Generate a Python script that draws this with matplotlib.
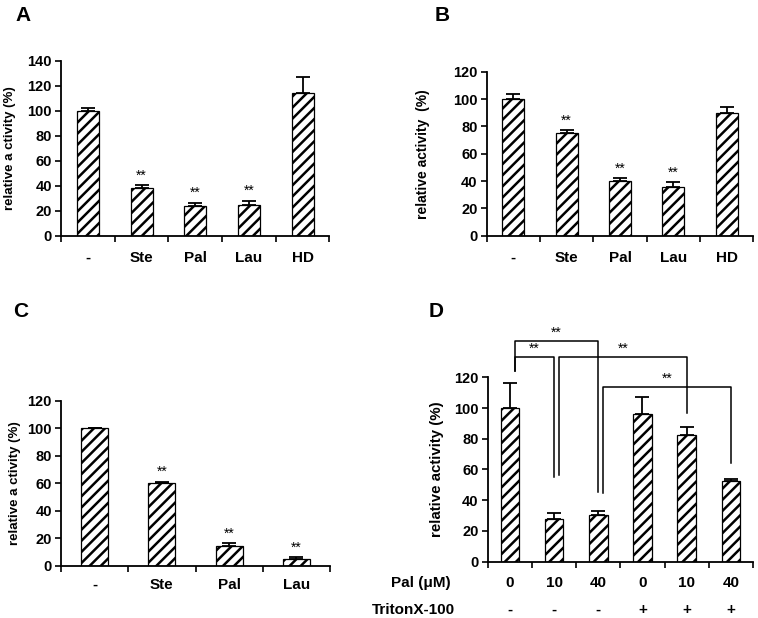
import matplotlib
matplotlib.use("Agg")
import matplotlib.pyplot as plt
import numpy as np

plt.rcParams["font.family"] = ["Liberation Sans", "DejaVu Sans"]
plt.rcParams["hatch.linewidth"] = 1.8

# panel A
a_labels = ["-", "Ste", "Pal", "Lau", "HD"]
a_vals = [100, 38, 24, 25, 114]
a_err = [2, 2.5, 2.5, 3, 13]
a_sig = [False, True, True, True, False]

# panel B
b_labels = ["-", "Ste", "Pal", "Lau", "HD"]
b_vals = [100, 75.5, 40, 35.5, 89.5]
b_err = [4, 1.5, 2, 3.5, 5]
b_sig = [False, True, True, True, False]

# panel C
c_labels = ["-", "Ste", "Pal", "Lau"]
c_vals = [100, 60, 14.5, 5]
c_err = [0.5, 1.2, 2, 1.2]
c_sig = [False, True, True, True]

# panel D
d_pal = ["0", "10", "40", "0", "10", "40"]
d_triton = ["-", "-", "-", "+", "+", "+"]
d_vals = [100, 28, 30.5, 96, 82.5, 52.5]
d_err = [16.5, 3.5, 2.8, 11, 5, 1]
d_pairs = [(0, 2), (0, 1), (1, 4), (2, 5)]

fig = plt.figure(figsize=(7.58, 6.18), dpi=100)


def bar_panel(rect, labels, vals, errs, sig, ymax, width, ylabel, lab_x, pad, lab_size):
    ax = fig.add_axes(rect)
    n = len(vals)
    x = np.arange(n) + 0.5
    ax.bar(x, vals, width, color="white", edgecolor="black", hatch="///", linewidth=0.9, zorder=2)
    ax.errorbar(x, vals, yerr=[np.zeros(n), errs], fmt="none", ecolor="black",
                elinewidth=1.3, capsize=5, capthick=1.3, zorder=3)
    if sig is not None:
        for xi, v, e, s in zip(x, vals, errs, sig):
            if s:
                ax.annotate("**", (xi, v + e), xytext=(0, 7), textcoords="offset points",
                            ha="center", va="center", fontsize=10)
    ax.set_xlim(0, n)
    ax.set_ylim(0, ymax)
    ax.set_yticks(np.arange(0, ymax + 1, 20))
    ax.set_xticks(np.arange(n + 1))
    ax.set_xticklabels([])
    ax.set_xticks(x, minor=True)
    ax.set_xticklabels(labels, minor=True, fontsize=11, fontweight="bold")
    ax.tick_params(axis="x", which="major", direction="out", length=4, width=1.2)
    ax.tick_params(axis="x", which="minor", length=0, pad=pad)
    ax.tick_params(axis="y", direction="out", length=4, width=1.2, pad=2.5, labelsize=10.5)
    for t in ax.get_yticklabels():
        t.set_fontweight("bold")
    for s in ["top", "right"]:
        ax.spines[s].set_visible(False)
    for s in ["left", "bottom"]:
        ax.spines[s].set_linewidth(1.3)
    ax.set_ylabel(ylabel, fontsize=lab_size, fontweight="bold")
    ax.yaxis.set_label_coords(lab_x, 0.5)
    return ax


axA = bar_panel([0.0805, 0.6186, 0.3540, 0.2827], a_labels, a_vals, a_err, a_sig, 140, 0.41,
                "relative a ctivity (%)", -0.168, 11, 9.5)
axB = bar_panel([0.6421, 0.6186, 0.3517, 0.2654], b_labels, b_vals, b_err, b_sig, 120, 0.41,
                "relative activity  (%)", -0.214, 11, 10)
axC = bar_panel([0.0805, 0.0846, 0.3549, 0.2670], c_labels, c_vals, c_err, c_sig, 120, 0.40,
                "relative a ctivity (%)", -0.149, 8.5, 9.5)
axD = bar_panel([0.6434, 0.0911, 0.3500, 0.2984], d_pal, d_vals, d_err, None, 120, 0.42,
                "relative activity (%)", -0.166, 10, 10.8)

# second label row for D
for i, s in enumerate(d_triton):
    axD.text(i + 0.5, -0.26, s, transform=axD.get_xaxis_transform(),
             ha="center", va="center", fontsize=11, fontweight="bold")
fig.text(451 / 758, 1 - 583 / 618, "Pal (\u03bcM)", ha="right", va="center",
         fontsize=11, fontweight="bold")
fig.text(455 / 758, 1 - 610 / 618, "TritonX-100", ha="right", va="center",
         fontsize=11, fontweight="bold")

# significance brackets in D
tops = [143.8, 133, 133, 113.9]
left_ends = [124.3, 124.3, 56.4, 44.9]
right_ends = [45.5, 55.3, 96.5, 64]
for (i, j), top, yl, yr in zip(d_pairs, tops, left_ends, right_ends):
    xl = i + 0.5 + 0.11
    xr = j + 0.5
    axD.plot([xl, xl, xr, xr], [yl, top, top, yr], color="black", lw=1.1,
             clip_on=False, zorder=4)
    axD.annotate("**", ((xl + xr) / 2, top), xytext=(0, 6), textcoords="offset points",
                 ha="center", va="center", fontsize=10, annotation_clip=False)

# panel letters
for lx, ly, s in [(15, 6, "A"), (435, 6, "B"), (13, 302, "C"), (429, 302, "D")]:
    fig.text(lx / 758, 1 - ly / 618, s, ha="left", va="top", fontsize=15, fontweight="bold")

fig.savefig("out.png", dpi=100)
